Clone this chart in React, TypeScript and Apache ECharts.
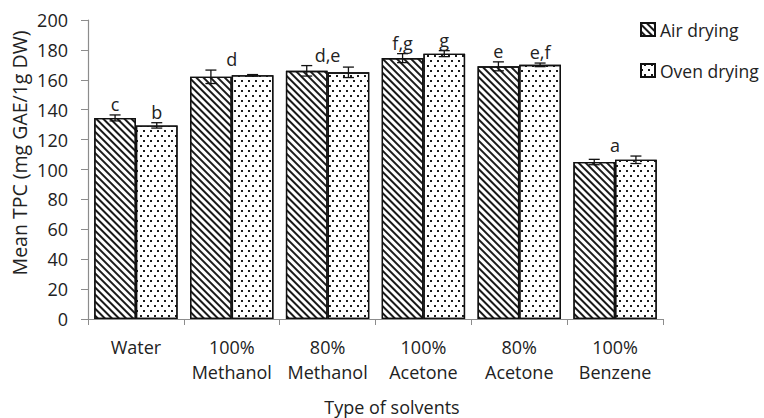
import React, { useEffect, useRef } from "react";
import * as echarts from "echarts";

const categories = ["Water", "100%\nMethanol", "80%\nMethanol", "100%\nAcetone", "80%\nAcetone", "100%\nBenzene"];
const airMean = [134.5, 162, 166, 174.5, 169, 105];
const airErr = [2, 4.5, 3.5, 3, 3, 1.8];
const ovenMean = [129.5, 163, 165, 177.5, 170, 106.5];
const ovenErr = [1.8, 0.5, 3.5, 2, 1.2, 2.5];
// letters: side -1 = over air bar, 1 = over oven bar, 0 = centered over group
const letterTexts = ["c", "b", "d", "d,e", "f,g", "g", "e", "e,f", "a"];
const letterCats = [0, 0, 1, 2, 3, 3, 4, 4, 5];
const letterSides = [-1, 1, 0, 0, -1, 1, -1, 1, 0];
const yTicks = { min: 0, max: 200, interval: 20 };

const FONT = "'Open Sans', sans-serif";
const GAP = 0.13;

export default function App() {
  const ref = useRef<HTMLDivElement>(null);
  useEffect(() => {
    if (!ref.current) return;
    const chart = echarts.init(ref.current, undefined, { renderer: "svg" });

    const errData: any[] = [];
    categories.forEach((_, i) => {
      errData.push([i, airMean[i], airErr[i], -1]);
      errData.push([i, ovenMean[i], ovenErr[i], 1]);
    });
    const letterData = letterTexts.map((t, k) => {
      const i = letterCats[k];
      const s = letterSides[k];
      const airTop = airMean[i] + airErr[i];
      const ovenTop = ovenMean[i] + ovenErr[i];
      const anchor = s < 0 ? airTop : s > 0 ? ovenTop : Math.max(airTop, ovenTop);
      return [i, anchor, s, t];
    });

    const hatch = {
      symbol: "rect",
      symbolSize: 1,
      color: "#1a1a1a",
      dashArrayX: [1, 0],
      dashArrayY: [1.1, 2.5],
      rotation: Math.PI / 4,
    };
    const dots = {
      symbol: "rect",
      symbolSize: 1,
      color: "#1a1a1a",
      dashArrayX: [[1.4, 4.6], [0, 3, 1.4, 1.6]],
      dashArrayY: [1.4, 2.6],
      rotation: 0,
    };

    chart.setOption({
      animation: false,
      grid: { left: 88, right: 101, top: 20, bottom: 99, containLabel: false },
      legend: {
        orient: "vertical",
        left: 640,
        top: 20,
        padding: 0,
        itemWidth: 14,
        itemHeight: 13,
        itemGap: 22,
        icon: "rect",
        textStyle: { fontFamily: FONT, fontSize: 17.5, color: "#222", lineHeight: 19 },
        data: ["Air drying", "Oven drying"],
      },
      xAxis: {
        type: "category",
        data: categories,
        boundaryGap: true,
        axisLine: { lineStyle: { color: "#8c8c8c", width: 1.2 } },
        axisTick: { show: true, length: 6, lineStyle: { color: "#8c8c8c" } },
        axisLabel: {
          fontFamily: FONT,
          fontSize: 18,
          color: "#222",
          lineHeight: 25,
          margin: 15,
          interval: 0,
        },
      },
      yAxis: {
        type: "value",
        min: yTicks.min,
        max: yTicks.max,
        interval: yTicks.interval,
        axisLine: { show: true, lineStyle: { color: "#8c8c8c", width: 1.2 } },
        axisTick: { show: true, length: 7, lineStyle: { color: "#8c8c8c" } },
        splitLine: { show: false },
        axisLabel: { fontFamily: FONT, fontSize: 18, color: "#222", margin: 20 },
      },
      series: [
        {
          name: "Air drying",
          type: "bar",
          data: airMean,
          barGap: "0%",
          barCategoryGap: GAP * 100 + "%",
          itemStyle: { color: "#ffffff", borderColor: "#111", borderWidth: 1.3, decal: hatch },
        },
        {
          name: "Oven drying",
          type: "bar",
          data: ovenMean,
          barGap: "0%",
          barCategoryGap: GAP * 100 + "%",
          itemStyle: { color: "#ffffff", borderColor: "#111", borderWidth: 1.3, decal: dots },
        },
        {
          type: "custom",
          data: errData,
          z: 10,
          renderItem: (params: any, api: any) => {
            const i = api.value(0);
            const m = api.value(1);
            const e = api.value(2);
            const s = api.value(3);
            const band = api.size([1, 0])[0];
            const bw = (band * (1 - GAP)) / 2;
            const c = api.coord([i, m]);
            const x = c[0] + (s * bw) / 2;
            const yTop = api.coord([i, m + e])[1];
            const yBot = api.coord([i, m - e])[1];
            const hw = 5.5;
            const st = { stroke: "#111", lineWidth: 1.3 };
            return {
              type: "group",
              children: [
                { type: "line", shape: { x1: x, y1: yTop, x2: x, y2: yBot }, style: st },
                { type: "line", shape: { x1: x - hw, y1: yTop, x2: x + hw, y2: yTop }, style: st },
                { type: "line", shape: { x1: x - hw, y1: yBot, x2: x + hw, y2: yBot }, style: st },
              ],
            };
          },
        },
        {
          type: "custom",
          data: letterData,
          z: 11,
          renderItem: (params: any, api: any) => {
            const i = api.value(0);
            const a = api.value(1);
            const s = api.value(2);
            const t = letterData[params.dataIndex][3];
            const band = api.size([1, 0])[0];
            const bw = (band * (1 - GAP)) / 2;
            const c = api.coord([i, a]);
            return {
              type: "text",
              x: c[0] + (s * bw) / 2,
              y: c[1] - 2,
              style: {
                text: t,
                fontFamily: FONT,
                fontSize: 18,
                fill: "#222",
                textAlign: "center",
                textVerticalAlign: "bottom",
              },
            };
          },
        },
      ],
      graphic: [
        {
          type: "text",
          x: 392,
          y: 407,
          style: {
            text: "Type of solvents",
            fontFamily: FONT,
            fontSize: 18,
            fill: "#222",
            textAlign: "center",
            textVerticalAlign: "middle",
          },
        },
        {
          type: "text",
          x: 19,
          y: 153,
          rotation: Math.PI / 2,
          style: {
            text: "Mean TPC (mg GAE/1g DW)",
            fontFamily: FONT,
            fontSize: 19.5,
            fill: "#222",
            textAlign: "center",
            textVerticalAlign: "middle",
          },
        },
      ],
    });
    return () => chart.dispose();
  }, []);
  return <div ref={ref} style={{ width: 764, height: 418, position: "absolute", left: 0, top: 0 }} />;
}
